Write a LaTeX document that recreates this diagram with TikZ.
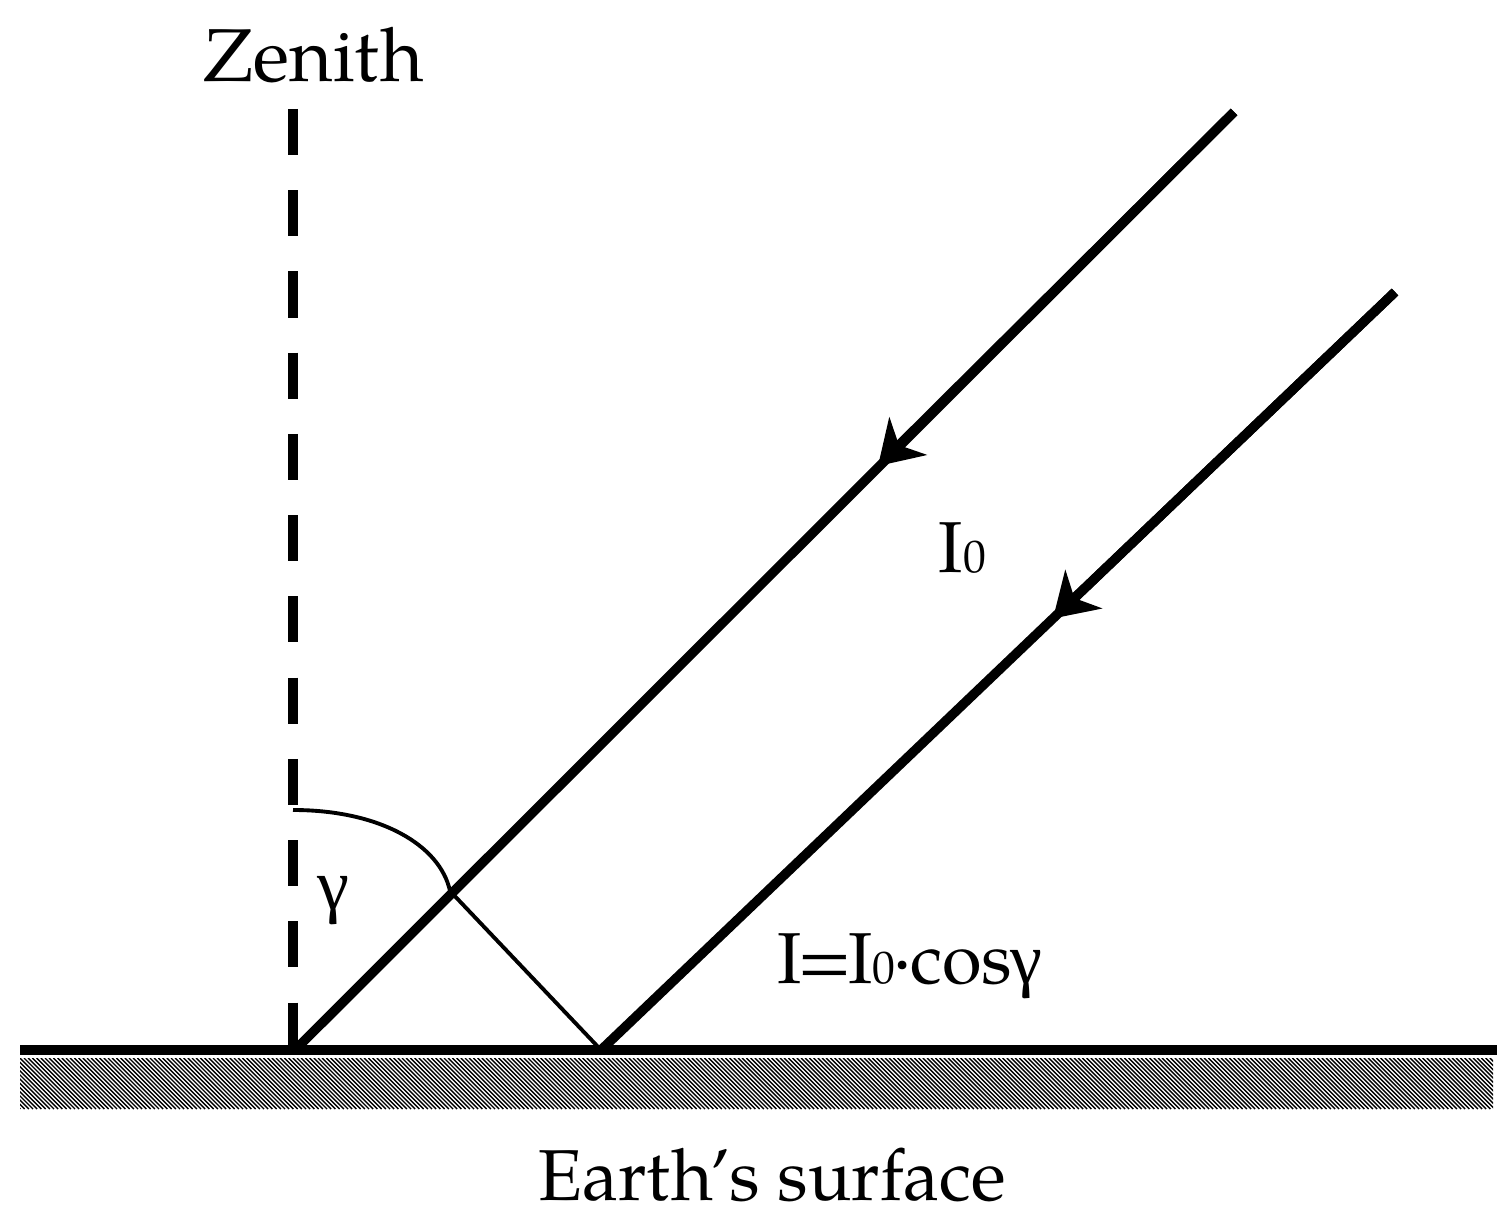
\documentclass[tikz,border=0pt]{standalone}
\usepackage{fontspec}
\setmainfont{texgyrepagella-regular.otf}
\newfontfamily\grk{Liberation Serif}
\usetikzlibrary{arrows.meta}
\tikzset{
  ray/.style={line width=2.7pt, line cap=butt},
  thinline/.style={line width=1.1pt},
  ground/.style={line width=3pt},
  zenithline/.style={line width=3.1pt, dash pattern=on 13.1pt off 10pt},
  hatch/.style={line width=0.4pt},
  lbl/.style={inner sep=0pt, font=\fontsize{20.5}{24}\selectfont},
  biglbl/.style={inner sep=0pt, font=\fontsize{21.3}{24}\selectfont},
  tipstyle/.style={-{Stealth[length=12pt, width=15pt, inset=3.6pt]}}
}
\newcommand{\subz}{{\fontsize{13}{15}\selectfont 0}}
\begin{document}
\begin{tikzpicture}[x=0.01cm, y=-0.01cm]
\useasboundingbox (0,0) rectangle (1506,1222);
% hatched ground band
\begin{scope}
  \clip (20,1058) rectangle (1493,1109);
  \foreach \i in {0,...,372}
    \draw[hatch] ({\i*4.2-60},1058) -- ++(51,51);
\end{scope}
% coordinates
\coordinate (gl) at (20,1050);
\coordinate (gr) at (1497,1050);
\coordinate (ztop) at (293,109);
\coordinate (zbot) at (293,1050);
\coordinate (o1) at (295,1050);
\coordinate (r1top) at (1234,112);
\coordinate (a1) at (878,466);
\coordinate (o2) at (601,1050);
\coordinate (r2top) at (1395,292);
\coordinate (a2) at (1053,618.5);
\coordinate (arcs) at (293,810);
\coordinate (x1) at (450,891);
% ground line
\draw[ground] (gl) -- (gr);
% zenith dashed line
\draw[zenithline] (ztop) -- (zbot);
% rays
\draw[ray] (o1) -- (r1top);
\draw[ray] (o2) -- (r2top);
\draw[ray, tipstyle] (r1top) -- (a1);
\draw[ray, tipstyle] (r2top) -- (a2);
% angle arc and perpendicular
\draw[thinline] (arcs) .. controls (380,810) and (440,845) .. (x1);
\draw[thinline] (x1) -- (o2);
% labels
\node[biglbl, anchor=base] (zen) at (314,82) {Zenith};
\node[lbl, anchor=base] (earth) at (772,1200) {Earth’s surface};
\node[lbl, anchor=base west] (i0) at (938,573) {I\subz};
\node[lbl, anchor=base west] (form) at (777,983) {I\kern-1.2pt=\kern-1.2pt I\subz\kern-0.8pt·\kern-0.8pt cos\kern-0.5pt{\grk γ}};
\node[lbl, anchor=base west] (gam) at (317,909) {\grk γ};
\end{tikzpicture}
\end{document}
